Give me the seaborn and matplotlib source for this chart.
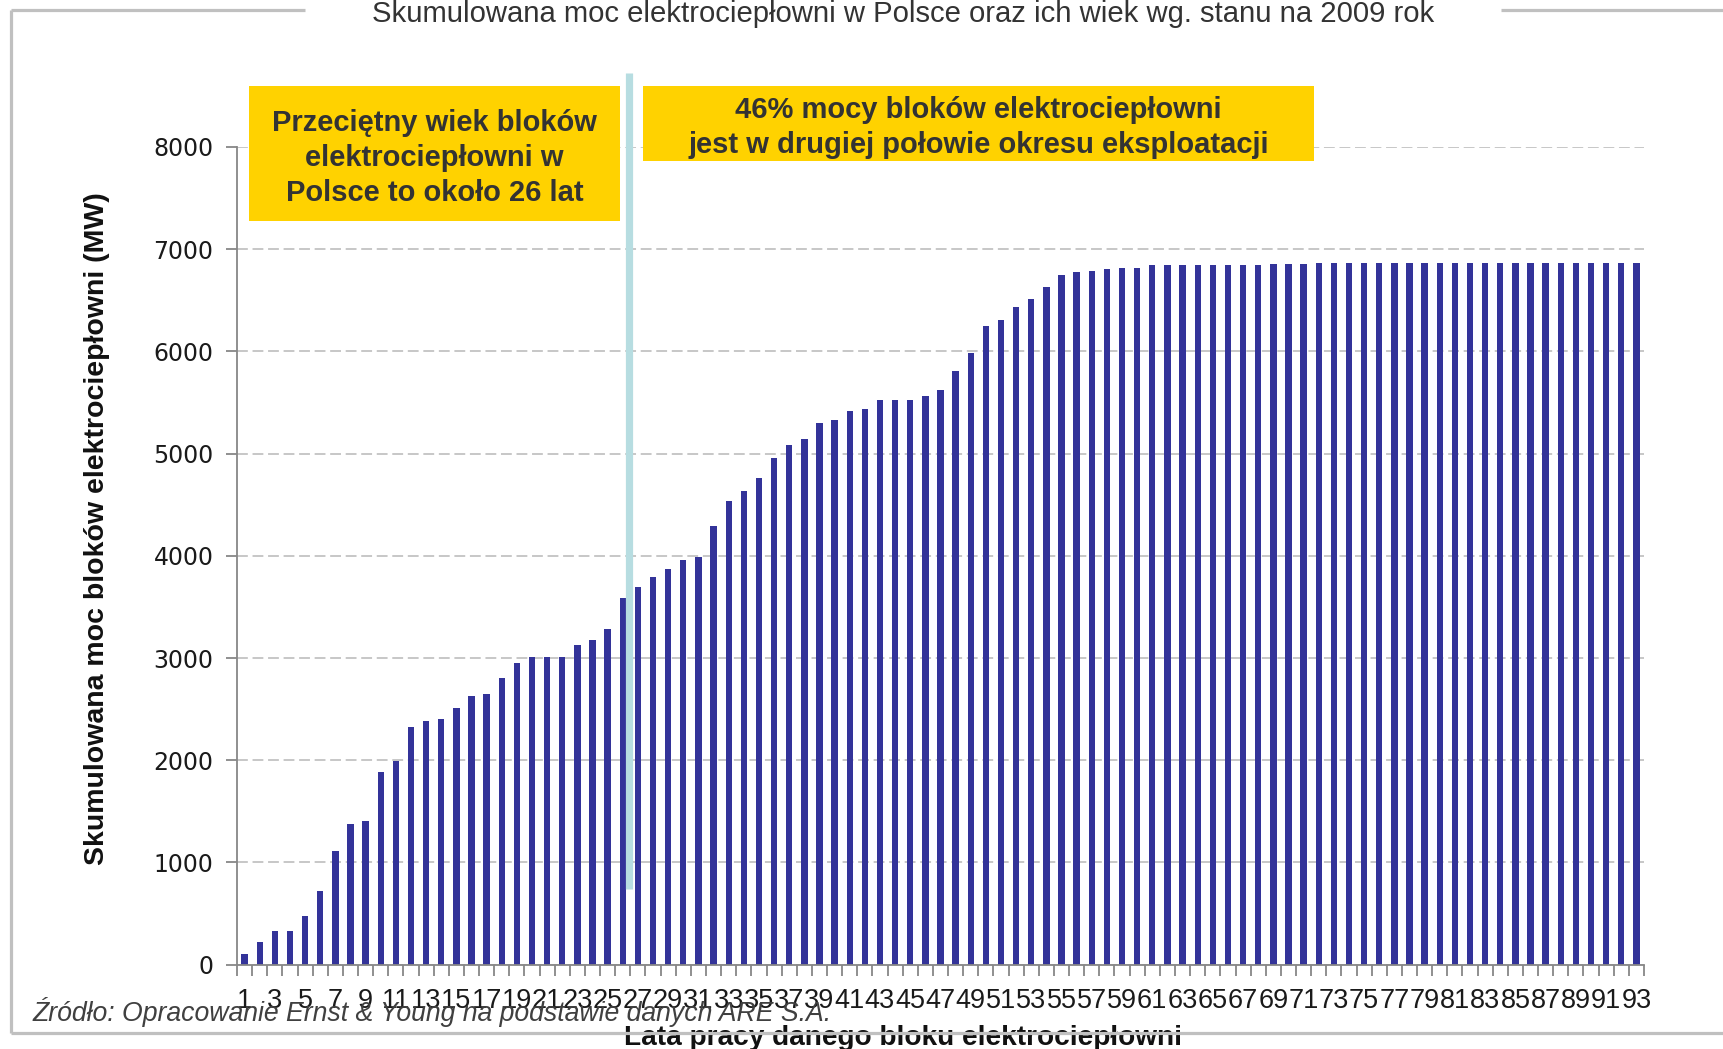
import numpy as np
import pandas as pd
import matplotlib
matplotlib.use("Agg")
import matplotlib.pyplot as plt
from matplotlib.lines import Line2D
from matplotlib.patches import Rectangle
import seaborn as sns

# Age of the unit (years of operation) and cumulative installed capacity [MW]
ages = list(range(1, 94))
cumulative_mw = [
    100, 220, 333, 333, 478, 722, 1115, 1375, 1402, 1882,
    1996, 2320, 2382, 2400, 2507, 2630, 2652, 2802, 2948, 3005,
    3010, 3010, 3125, 3180, 3282, 3586, 3692, 3790, 3874, 3962,
    3985, 4290, 4536, 4638, 4761, 4960, 5084, 5146, 5296, 5330,
    5417, 5436, 5524, 5524, 5524, 5560, 5626, 5810, 5985, 6252,
    6310, 6430, 6515, 6633, 6744, 6777, 6790, 6810, 6813, 6820,
    6849, 6849, 6849, 6849, 6849, 6849, 6849, 6849, 6859, 6859,
    6859, 6862, 6862, 6862, 6862, 6862, 6862, 6862, 6862, 6866,
    6866, 6866, 6866, 6866, 6866, 6866, 6866, 6866, 6866, 6866,
    6866, 6866, 6869,
]
y_ticks = [0, 1000, 2000, 3000, 4000, 5000, 6000, 7000, 8000]
average_age = 26.44  # average age of CHP units, marked by the vertical line

title = "Skumulowana moc elektrociepłowni w Polsce oraz ich wiek wg. stanu na 2009 rok"
y_label = "Skumulowana moc bloków elektrociepłowni (MW)"
x_label = "Lata pracy danego bloku elektrociepłowni"
box_left_text = "Przeciętny wiek bloków\nelektrociepłowni w\nPolsce to około 26 lat"
box_right_text = "46% mocy bloków elektrociepłowni\njest w drugiej połowie okresu eksploatacji"
source_text = "Źródło: Opracowanie Ernst & Young na podstawie danych ARE S.A."

df = pd.DataFrame({"wiek": ages, "moc": cumulative_mw})

sns.set_style("white")
plt.rcParams["font.family"] = ["Liberation Sans", "DejaVu Sans"]

W, H = 1723, 1049
fig = plt.figure(figsize=(W / 100, H / 100), dpi=100)
fig.patch.set_facecolor("white")


def fx(px):
    return px / W


def fy(py):
    return 1 - py / H


ax_left, ax_right, ax_top, ax_bottom = 237, 1644, 147, 964.6
ax = fig.add_axes([fx(ax_left), fy(ax_bottom), fx(ax_right - ax_left),
                   (ax_bottom - ax_top) / H])

sns.barplot(data=df, x="wiek", y="moc", color="#333399", saturation=1,
            width=0.42, linewidth=0, ax=ax, zorder=2)

ax.set_xlim(-0.5, len(ages) - 0.5)
ax.set_ylim(0, 8000)

# y axis
axis_grey = "#878787"
ax.set_yticks(y_ticks)
ax.set_yticklabels([str(v) for v in y_ticks], fontfamily="DejaVu Sans",
                   fontsize=17, color="#1a1a1a")
ax.tick_params(axis="y", which="major", direction="out", length=8,
               width=1.3, color=axis_grey, pad=9, left=True)

# x axis: labels on every other category, tick marks between categories
ax.set_xticks(range(0, len(ages), 2))
ax.set_xticklabels([str(a) for a in ages[::2]], fontfamily="Liberation Sans",
                   fontsize=19.5, color="#1a1a1a")
ax.set_xticks(np.arange(-0.5, len(ages), 1), minor=True)
ax.tick_params(axis="x", which="major", length=0, pad=17, bottom=True)
ax.tick_params(axis="x", which="minor", direction="out", length=8,
               width=1.3, color=axis_grey, bottom=True)

for side in ("top", "right"):
    ax.spines[side].set_visible(False)
for side in ("left", "bottom"):
    ax.spines[side].set_color(axis_grey)
    ax.spines[side].set_linewidth(1.3)

ax.yaxis.grid(True, linestyle=(0, (6, 2.6)), color="#c3c3c3", linewidth=1.3)
ax.xaxis.grid(False)
ax.set_axisbelow(True)

# vertical marker of the average age
ax.axvline(average_age - 1, ymin=740 / 8000, ymax=1.0905, color="#b7dde1",
           linewidth=5.2, solid_capstyle="butt", clip_on=False, zorder=3)

ax.set_ylabel(y_label, fontsize=20.5, fontweight="bold", color="#111111",
              va="center")
ax.yaxis.set_label_coords((97 - ax_left) / (ax_right - ax_left),
                          (ax_bottom - 528.5) / (ax_bottom - ax_top))
ax.set_xlabel(x_label, fontsize=20.2, fontweight="bold", color="#111111",
              va="top")
ax.xaxis.set_label_coords((903 - ax_left) / (ax_right - ax_left),
                          (ax_bottom - 1025) / (ax_bottom - ax_top))

# yellow call-out boxes
yellow = "#FFD200"
box_text_color = "#333333"
fig.add_artist(Rectangle((fx(249), fy(221)), fx(371), 135 / H,
                         transform=fig.transFigure, facecolor=yellow,
                         edgecolor="none", zorder=4))
fig.text(fx(434.5), fy(158), box_left_text, ha="center", va="center",
         fontsize=21, fontweight="bold", color=box_text_color,
         linespacing=1.3, zorder=5)
fig.add_artist(Rectangle((fx(643), fy(161)), fx(671), 75 / H,
                         transform=fig.transFigure, facecolor=yellow,
                         edgecolor="none", zorder=4))
fig.text(fx(978.5), fy(127.5), box_right_text, ha="center", va="center",
         fontsize=21, fontweight="bold", color=box_text_color,
         linespacing=1.3, zorder=5)

# title and source
fig.text(fx(903), fy(22), title, ha="center", va="baseline", fontsize=21.1,
         color="#333333")
fig.text(fx(33), fy(1021), source_text, ha="left", va="baseline",
         fontsize=19.2, style="italic", color="#404040")

# frame around the chart
frame_grey = "#c0c0c0"
frame_kw = dict(transform=fig.transFigure, color=frame_grey, linewidth=2.3,
                zorder=6, solid_capstyle="butt")
fig.add_artist(Line2D([fx(11), fx(305)], [fy(10), fy(10)], **frame_kw))
fig.add_artist(Line2D([fx(1501), 1.0], [fy(10), fy(10)], **frame_kw))
fig.add_artist(Line2D([fx(11), fx(11)], [fy(10), fy(1033)], **frame_kw))
fig.add_artist(Line2D([fx(11), 1.0], [fy(1033), fy(1033)], **frame_kw))

fig.savefig("out.png", dpi=100, facecolor="white")
